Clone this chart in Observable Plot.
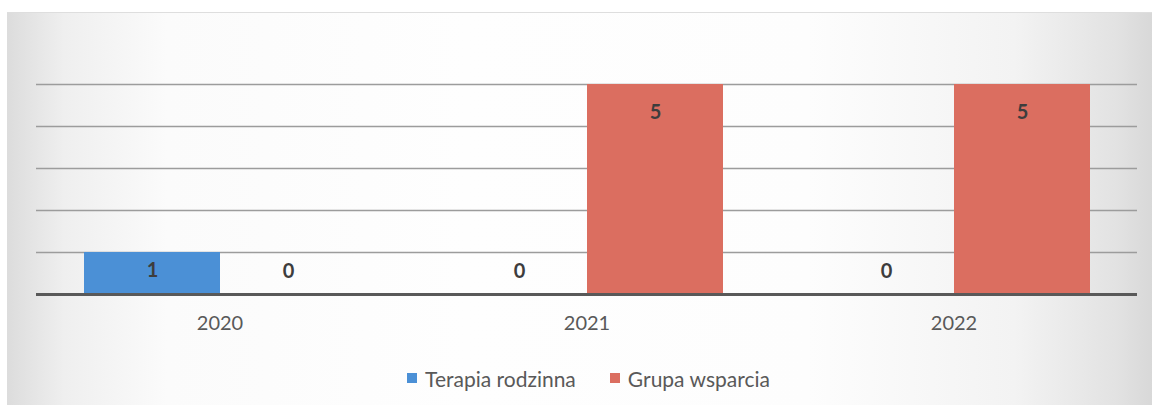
<!DOCTYPE html>
<html>
<head>
<meta charset="utf-8">
<script src="https://cdn.jsdelivr.net/npm/d3@7"></script>
<script src="https://cdn.jsdelivr.net/npm/@observablehq/plot@0.6"></script>
<style>
  html, body { margin: 0; padding: 0; background: #fff; }
  #page { width: 1152px; height: 405px; position: relative; overflow: hidden; background: #fff; }
  #box {
    position: absolute; left: 7px; top: 12px; width: 1145px; height: 393px;
    border-top: 1px solid #dedede;
    background: linear-gradient(to right, #dcdcdc 0%, #efefef 5%, #fbfbfb 14%, #fefefe 40%, #fdfdfd 70%, #f3f3f3 88%, #e2e2e2 97%, #d8d8d8 100%);
    font-family: Lato, "Open Sans", sans-serif;
  }
  #legend {
    display: flex; justify-content: center; align-items: center; gap: 34px;
    padding-left: 18px; margin-top: 5px;
    font-size: 21px; color: #595959; height: 30px;
  }
  #legend .item { display: flex; align-items: center; gap: 8px; }
  #legend .sw { width: 10px; height: 10px; display: inline-block; }
</style>
</head>
<body>
<div id="page"><div id="box"><div id="chart"></div><div id="legend"></div></div></div>
<script>
const years = ["2020", "2021", "2022"];
const series = ["Terapia rodzinna", "Grupa wsparcia"];
const terapia = [1, 0, 0];
const grupa = [0, 5, 5];
const gridTicks = [1, 2, 3, 4, 5];
const colors = ["#4b90d6", "#db6e60"];

const data = years.flatMap((y, i) => [
  {year: y, series: series[0], value: terapia[i]},
  {year: y, series: series[1], value: grupa[i]}
]);

const labelStyle = {fx: "year", x: "series", y: "value", text: d => String(d.value),
  fontSize: 20, fontWeight: "bold", fill: "#3d3d3d"};

const chart = Plot.plot({
  width: 1145,
  height: 345,
  marginTop: 71,
  marginBottom: 64,
  marginLeft: 28,
  marginRight: 14,
  style: {fontFamily: "Lato, 'Open Sans', sans-serif", color: "#595959", background: "transparent"},
  fx: {domain: years, padding: 0, label: null},
  x: {domain: series, paddingInner: 0, paddingOuter: 0.343, axis: null},
  y: {domain: [0, 5], axis: null},
  color: {domain: series, range: colors},
  marks: [
    Plot.ruleY(gridTicks, {stroke: "#9c9c9c", strokeWidth: 1.3}),
    Plot.barY(data, {fx: "year", x: "series", y: "value", fill: "series", inset: 0}),
    Plot.ruleY([0], {stroke: "#595959", strokeWidth: 3}),
    Plot.text(data.filter(d => d.value >= 2), {...labelStyle, dy: 28}),
    Plot.text(data.filter(d => d.value === 1), {...labelStyle, dy: 18}),
    Plot.text(data.filter(d => d.value === 0), {...labelStyle, dy: -23}),
    Plot.axisFx({anchor: "bottom", tickSize: 0, tickPadding: 21, fontSize: 20, label: null})
  ]
});
document.getElementById("chart").appendChild(chart);

const legend = document.getElementById("legend");
series.forEach((s, i) => {
  const item = document.createElement("div");
  item.className = "item";
  const sw = document.createElement("span");
  sw.className = "sw";
  sw.style.background = colors[i];
  const t = document.createElement("span");
  t.textContent = s;
  item.appendChild(sw);
  item.appendChild(t);
  legend.appendChild(item);
});
</script>
</body>
</html>
